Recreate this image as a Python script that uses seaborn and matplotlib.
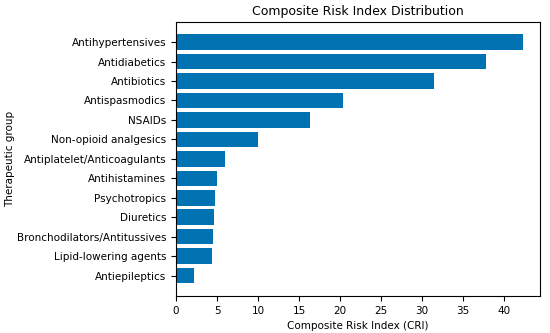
import pandas as pd
import matplotlib
matplotlib.use("Agg")
import matplotlib.pyplot as plt
import seaborn as sns

# ---------------------------
# DATA
# ---------------------------
groups = [
    "Antihypertensives", "Antidiabetics", "Antibiotics", "Antispasmodics",
    "NSAIDs", "Non-opioid analgesics", "Antiplatelet/Anticoagulants",
    "Antihistamines", "Psychotropics", "Diuretics",
    "Bronchodilators/Antitussives", "Lipid-lowering agents", "Antiepileptics",
]
cri = [42.3, 37.8, 31.5, 20.4, 16.4, 10.0, 5.95, 5.0, 4.8, 4.6, 4.55, 4.35, 2.2]

df = pd.DataFrame({"group": groups, "cri": cri})

# ---------------------------
# PLOT (plain matplotlib look)
# ---------------------------
plt.rcParams['font.family'] = ['DejaVu Sans']
plt.rcParams['font.size'] = 7.5

fig, ax = plt.subplots(figsize=(5.5, 3.33), dpi=100)
sns.barplot(data=df, x="cri", y="group", orient="h", color="#0173b2",
            saturation=1, width=0.8, ax=ax)

ax.set_title("Composite Risk Index Distribution", fontsize=9, pad=4.5)
ax.set_xlabel("Composite Risk Index (CRI)")
ax.set_ylabel("Therapeutic group", labelpad=1.5)
ax.set_xticks(range(0, 45, 5))
ax.set_xlim(0, 44.4)
ax.set_ylim(13.05, -1.05)

plt.subplots_adjust(left=0.32, right=0.982, top=0.935, bottom=0.111)
plt.savefig("out.png", dpi=100)
